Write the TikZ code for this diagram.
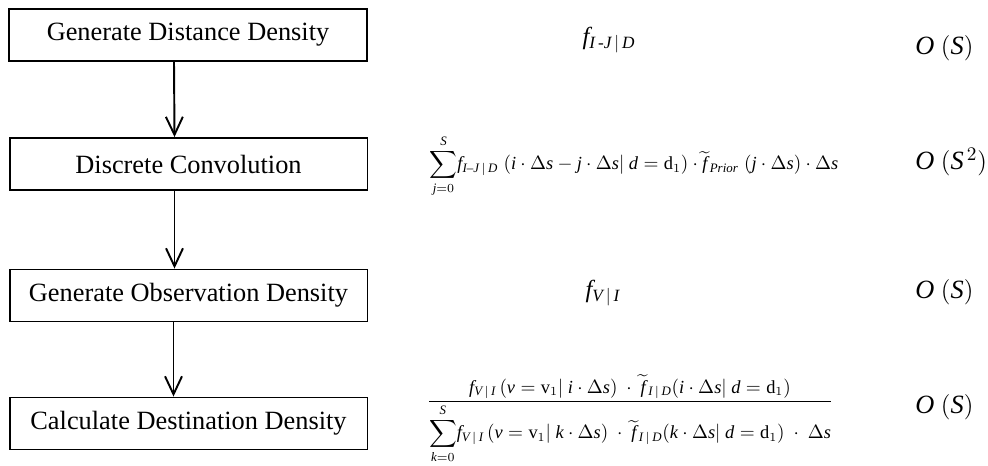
\documentclass[tikz,border=0pt]{standalone}
\usepackage{amsmath}
\usepackage{fontspec}
\setmainfont{Liberation Serif}
\DeclareSymbolFont{letters}{TU}{\rmdefault}{m}{it}
\usetikzlibrary{arrows.meta}
\newcommand{\dd}{\textup{d}}
\newcommand{\vv}{\textup{v}}
\begin{document}
\begin{tikzpicture}[x=0.02cm, y=-0.02cm,
  stepbox/.style={draw, line width=1.1pt, minimum width=7.16cm, minimum height=1.04cm,
    inner sep=0pt, font=\fontsize{15}{18}\selectfont},
  flow/.style={line width=1.1pt, -{Straight Barb[length=0.36cm, width=0.34cm, line width=1.1pt]}},
  formula/.style={inner sep=0pt, font=\fontsize{10.5}{12}\selectfont},
  cost/.style={anchor=west, inner sep=0pt, font=\fontsize{15}{18}\selectfont}]
  \useasboundingbox (0,0) rectangle (988,466);
  % processing steps
  \node[stepbox] (b1) at (188,35) {Generate Distance Density};
  \node[stepbox] (b2) at (188.5,164) {Discrete Convolution};
  \node[stepbox] (b3) at (188.5,295.5) {Generate Observation Density};
  \node[stepbox] (b4) at (188.5,423.5) {Calculate Destination Density};
  \draw[flow] ([xshift=-0.28cm]b1.south) -- ([xshift=-0.28cm]b2.north);
  \draw[flow] ([xshift=-0.28cm]b2.south) -- ([xshift=-0.28cm]b3.north);
  \draw[flow] ([xshift=-0.3cm]b3.south) -- ([xshift=-0.3cm]b4.north);
  % densities
  \node[formula, font=\fontsize{14}{16}\selectfont] (f1) at (609,40) {$f_{I\,\text{-}J\,|\,D}$};
  \node[formula] (f2) at (634,166) {$\displaystyle\sum_{j=0}^{S}\! f_{I\text{--}J\,|\,D}\;(i\cdot\Delta s - j\cdot\Delta s|\ d=\dd_1)\cdot\widetilde{f}_{\,Prior}\;(j\cdot\Delta s)\cdot\Delta s$};
  \node[formula, font=\fontsize{14}{16}\selectfont] (f3) at (603,293) {$f_{V\,|\,I}$};
  \node[formula] (f4) at (630,419) {$\dfrac{f_{V\,|\,I}\,(v=\vv_1|\ i\cdot\Delta s)\ \cdot\ \widetilde{f}_{\,I\,|\,D}(i\cdot\Delta s|\ d=\dd_1)}{\displaystyle\sum_{k=0}^{S}\! f_{V\,|\,I}\,(v=\vv_1|\ k\cdot\Delta s)\ \cdot\ \widetilde{f}_{\,I\,|\,D}(k\cdot\Delta s|\ d=\dd_1)\ \cdot\ \Delta s}$};
  % running time
  \node[cost] (c1) at (915,48) {$O\ (S)$};
  \node[cost] (c2) at (915,162) {$O\ (S^{\,2})$};
  \node[cost] (c3) at (915,292) {$O\ (S)$};
  \node[cost] (c4) at (915,407) {$O\ (S)$};
\end{tikzpicture}
\end{document}
